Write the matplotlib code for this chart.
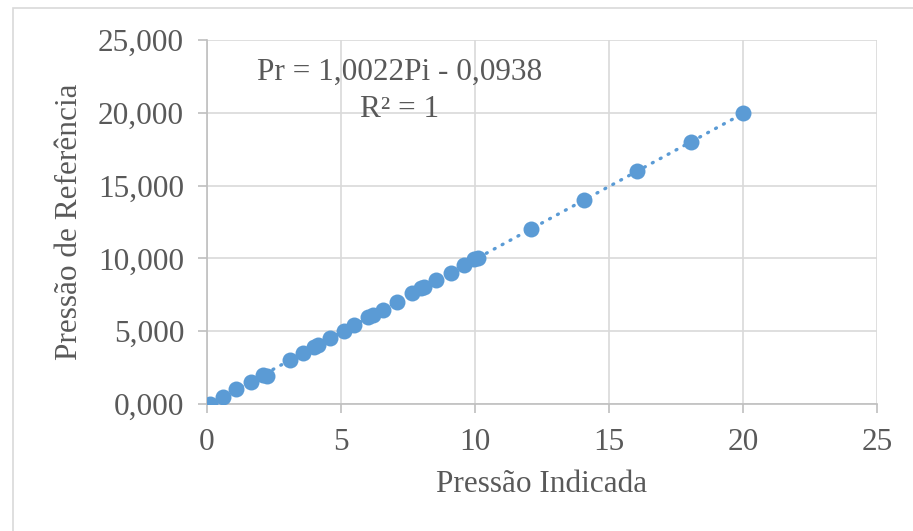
import numpy as np
import matplotlib
matplotlib.use("Agg")
import matplotlib.pyplot as plt
from matplotlib.patches import Rectangle
from matplotlib.ticker import FuncFormatter, MultipleLocator

# calibration readings: indicated pressure vs reference pressure
p_indicada = [0.1, 0.6, 1.1, 1.65, 2.1, 2.25, 3.1, 3.6, 4.0, 4.15, 4.6,
              5.1, 5.5, 6.0, 6.2, 6.55, 7.1, 7.65, 8.0, 8.1, 8.55, 9.1,
              9.6, 9.95, 10.1, 12.1, 14.05, 16.05, 18.05, 20.0]
p_referencia = [0.0, 0.5, 1.0, 1.5, 2.0, 1.95, 3.0, 3.5, 3.9, 4.05, 4.5,
                5.0, 5.45, 5.95, 6.1, 6.45, 7.0, 7.6, 7.95, 8.05, 8.5, 9.0,
                9.55, 9.95, 10.05, 12.0, 14.0, 16.0, 18.0, 20.0]

# linear trend reported on the chart
slope, intercept = 1.0022, -0.0938

BLUE = "#5B9BD5"
GRID = "#D9D9D9"
TEXT = "#595959"

plt.rcParams["font.family"] = ["Liberation Serif", "DejaVu Serif"]
FS = 22.5

fig = plt.figure(figsize=(9.13, 5.31), dpi=100)
# chart frame, open towards the right and bottom edges
fig.patches.append(Rectangle((13 / 913, -0.05), 1.0, 1 - 8 / 531 + 0.05,
                             transform=fig.transFigure, fill=False,
                             edgecolor=GRID, linewidth=1.2))
ax = fig.add_axes([207 / 913, 1 - 404 / 531, 670 / 913, 364 / 531])

xs = np.array([min(p_indicada), max(p_indicada)])
ax.plot(xs, slope * xs + intercept, color=BLUE, linewidth=2.4,
        linestyle=(0, (0.3, 2.4)), dash_capstyle="round", zorder=2)
ax.plot(p_indicada, p_referencia, "o", color=BLUE, markersize=11.5,
        markeredgewidth=0, zorder=3)

ax.set_xlim(0, 25)
ax.set_ylim(0, 25)
ax.xaxis.set_major_locator(MultipleLocator(5))
ax.yaxis.set_major_locator(MultipleLocator(5))
ax.yaxis.set_major_formatter(FuncFormatter(lambda v, _: f"{v:.3f}".replace(".", ",")))

ax.grid(True, color=GRID, linewidth=1.2, zorder=0)
ax.set_axisbelow(True)
for side in ("top", "right"):
    ax.spines[side].set_visible(False)
for side in ("left", "bottom"):
    ax.spines[side].set_color("#BFBFBF")
    ax.spines[side].set_linewidth(1.2)
ax.tick_params(axis="both", colors="#BFBFBF", labelcolor=TEXT,
               labelsize=FS, length=6.5, width=1.2)
ax.tick_params(axis="y", pad=10)
ax.tick_params(axis="x", pad=11)

ax.set_xlabel("Pressão Indicada", fontsize=FS, color=TEXT, labelpad=9)
ax.set_ylabel("Pressão de Referência", fontsize=FS, color=TEXT, labelpad=10)

ax.text(0.288, 0.86, "Pr = 1,0022Pi - 0,0938\nR² = 1", transform=ax.transAxes,
        ha="center", va="center", multialignment="center",
        fontsize=FS, color=TEXT, linespacing=1.35)

fig.savefig("out.png", dpi=100)
